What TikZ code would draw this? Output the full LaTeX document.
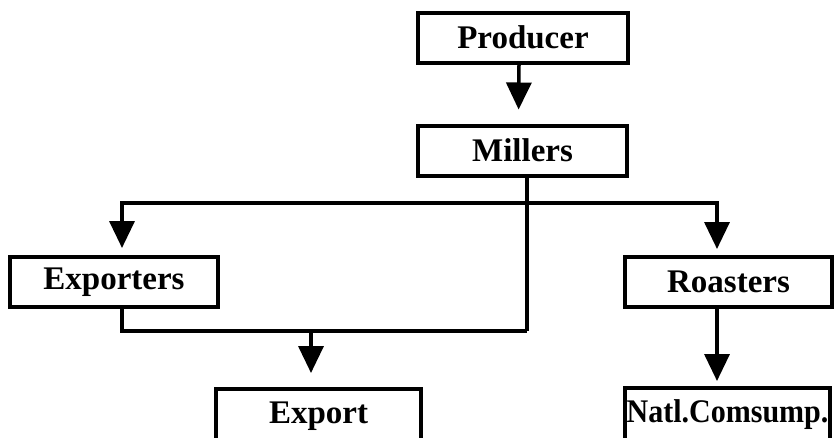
\documentclass[tikz,border=0pt]{standalone}
\usepackage{fontspec}
\setmainfont{Liberation Serif}
\usepackage{graphicx}
\usetikzlibrary{arrows.meta,calc}

\tikzset{
  box/.style={draw, line width=4pt, minimum height=50pt, inner sep=0pt,
    font=\fontsize{33}{36}\selectfont\bfseries},
  link/.style={line width=3.5pt, line join=miter},
  arr/.style={link, -{Triangle[width=25pt,length=27pt]}},
}

\begin{document}
\begin{tikzpicture}[x=1pt,y=-1pt]
  \useasboundingbox (0,0) rectangle (834,437);

  % boxes
  \node[box, minimum width=210pt] (prod) at (523,37.5)  {Producer};
  \node[box, minimum width=209pt] (mill) at (522.5,150.5) {Millers};
  \node[box, minimum width=208pt] (expo) at (114,282)   {Exporters};
  \node[box, minimum width=207pt] (roas) at (728.5,282) {Roasters};
  \node[box, minimum width=205pt, minimum height=54pt] (export) at (318.5,416) {Export};
  \node[box, minimum width=205pt, minimum height=54pt] (natl) at (727.5,415)
    {\scalebox{0.91}[1]{Natl.Comsump.}};

  % branch points on the Millers line
  \coordinate (split) at (527,203);
  \coordinate (join)  at (527,331);

  % Producer to Millers
  \draw[arr, shorten >=14pt] ([xshift=-4pt]prod.south) -- ([xshift=-4pt]mill.north);

  % Millers splits to Exporters and Roasters, and runs down to the join
  \draw[link] ([xshift=4.5pt]mill.south) -- (join);
  \draw[arr, shorten >=7pt] (split) -| ([xshift=8pt]expo.north);
  \draw[arr, shorten >=6pt] (split) -| ([xshift=-11.5pt]roas.north);

  % Exporters joins the Millers line, then on to Export
  \draw[link] ([xshift=8pt]expo.south) |- (join);
  \draw[arr, shorten >=14pt] (join -| 311,0) -- ([xshift=-7.5pt]export.north);

  % Roasters to national consumption
  \draw[arr, shorten >=5pt] ([xshift=-11.5pt]roas.south) -- ([xshift=-10.5pt]natl.north);
\end{tikzpicture}
\end{document}
